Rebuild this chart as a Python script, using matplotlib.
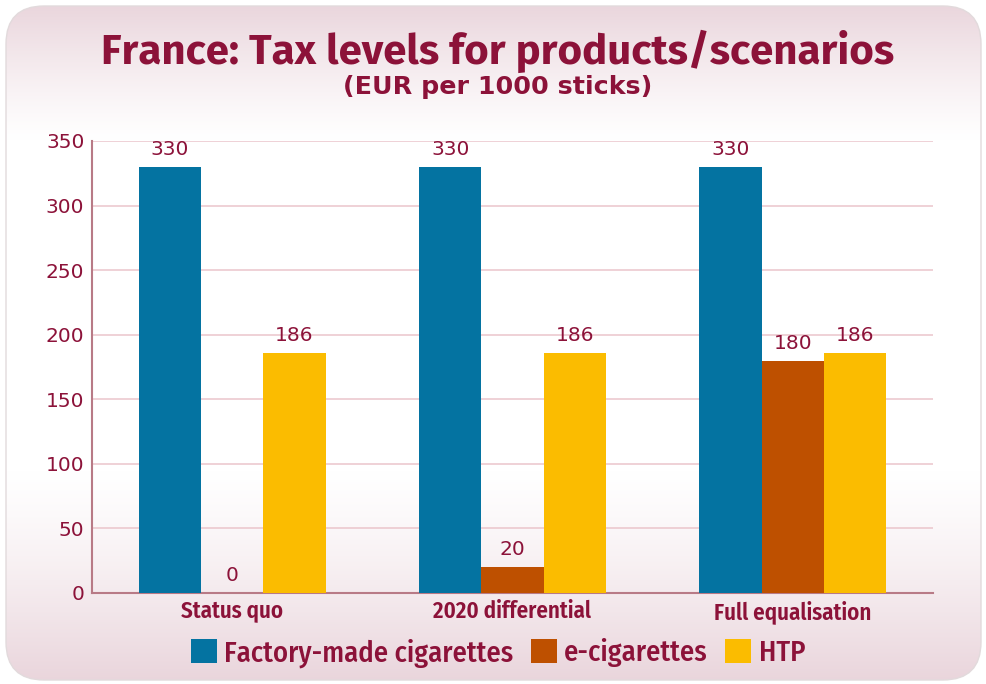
import matplotlib
matplotlib.use("Agg")
import matplotlib.pyplot as plt
import numpy as np
from matplotlib.patches import FancyBboxPatch, Patch
from matplotlib.font_manager import FontProperties
from matplotlib.textpath import TextPath

scenarios = ["Status quo", "2020 differential", "Full equalisation"]
products = ["Factory-made cigarettes", "e-cigarettes", "HTP"]
fmc = [330, 330, 330]
ecig = [0, 20, 180]
htp = [186, 186, 186]
yticks = [0, 50, 100, 150, 200, 250, 300, 350]
title = "France: Tax levels for products/scenarios"
subtitle = "(EUR per 1000 sticks)"

colors = ["#0473a1", "#be5000", "#fbbc00"]
text_col = "#8c1239"
grid_col = "#ecc9cf"
spine_col = "#b87a86"
cond = "Fira Sans Condensed"

W, H = 987, 684
DPI = 100


def ink(text, family, weight, size):
    ext = TextPath((0, 0), text, size=size, prop=FontProperties(family=family, weight=weight)).get_extents()
    return ext.width * DPI / 72, ext.height * DPI / 72


def fitted(text, families, weight, width_px, cap_px):
    """Pick the family and size whose ink width is width_px and cap height nearest cap_px."""
    best = None
    for fam in families:
        w10, _ = ink(text, fam, weight, 10)
        size = 10 * width_px / w10
        _, cap = ink("E", fam, weight, size)
        score = abs(cap - cap_px)
        if best is None or score < best[0]:
            best = (score, fam, size)
    return best[1], best[2]


fig = plt.figure(figsize=(W / DPI, H / DPI), dpi=DPI)
fig.patch.set_facecolor("white")

# background panel with vertical pink-white-pink gradient
bg = fig.add_axes([0, 0, 1, 1])
bg.set_xlim(0, W)
bg.set_ylim(H, 0)
bg.axis("off")
ys = np.arange(H)
t = np.zeros(H)
top = ys < 140
t[top] = (1 - ys[top] / 140.0) ** 1.2
bot = ys > 470
t[bot] = ((ys[bot] - 470) / (H - 470)) ** 1.3
pink = np.array([233, 212, 219]) / 255.0
grad = 1 - t[:, None] * (1 - pink[None, :])
img = np.repeat(grad[:, None, :], 2, axis=1)
im = bg.imshow(img, extent=[0, W, H, 0], aspect="auto", zorder=0)
panel = FancyBboxPatch((6, 6), W - 12, H - 10, boxstyle="round,pad=0,rounding_size=38",
                       facecolor="none", edgecolor="#e2dadc", linewidth=1.0, zorder=1)
bg.add_patch(panel)
im.set_clip_path(panel)

t_fam, t_size = fitted(title, ["Fira Sans", cond], "bold", 789, 26)
s_fam, s_size = fitted(subtitle, ["Fira Sans", "DejaVu Sans", cond], "bold", 305, 17)
fig.text(497.5 / W, 1 - 64 / H, title, ha="center", va="baseline",
         fontsize=t_size, fontweight="bold", color=text_col, family=t_fam)
fig.text(497.5 / W, 1 - 94 / H, subtitle, ha="center", va="baseline",
         fontsize=s_size, fontweight="bold", color=text_col, family=s_fam)

ax = fig.add_axes([92 / W, 1 - 593 / H, (933 - 92) / W, (593 - 141) / H])
ax.patch.set_alpha(0)
x = np.arange(len(scenarios))
bw = 0.222
series = [fmc, ecig, htp]
for i, (vals, c, lab) in enumerate(zip(series, colors, products)):
    pos = x + (i - 1) * bw
    ax.bar(pos, vals, width=bw, color=c, label=lab, zorder=3)
    for px, v in zip(pos, vals):
        ax.text(px, v + 6, f"{v}", ha="center", va="bottom", fontsize=14.5, color=text_col)

ax.set_xlim(-0.5, 2.5)
ax.set_ylim(0, 350)
ax.set_yticks(yticks)
ax.yaxis.grid(True, color=grid_col, linewidth=1.2, zorder=0)
ax.set_axisbelow(True)
for s in ["top", "right"]:
    ax.spines[s].set_visible(False)
for s in ["left", "bottom"]:
    ax.spines[s].set_color(spine_col)
    ax.spines[s].set_linewidth(1.5)
ax.tick_params(axis="y", length=0, labelsize=14.5, labelcolor=text_col, pad=5.5)
ax.tick_params(axis="x", length=0, pad=5)
ax.set_xticks(x)
ax.set_xticklabels(scenarios, fontsize=16.5, fontweight="semibold", color=text_col, family=cond)

handles = [Patch(facecolor=c, label=l) for c, l in zip(colors, products)]
fig.legend(handles=handles, loc="center", bbox_to_anchor=(498 / W, 1 - 653 / H), ncol=3,
           frameon=False, handlelength=0.91, handleheight=0.91,
           handletextpad=0.26, columnspacing=0.61, labelcolor=text_col,
           prop={"family": cond, "size": 20.6, "weight": "medium"})

fig.savefig("out.png", dpi=DPI)
